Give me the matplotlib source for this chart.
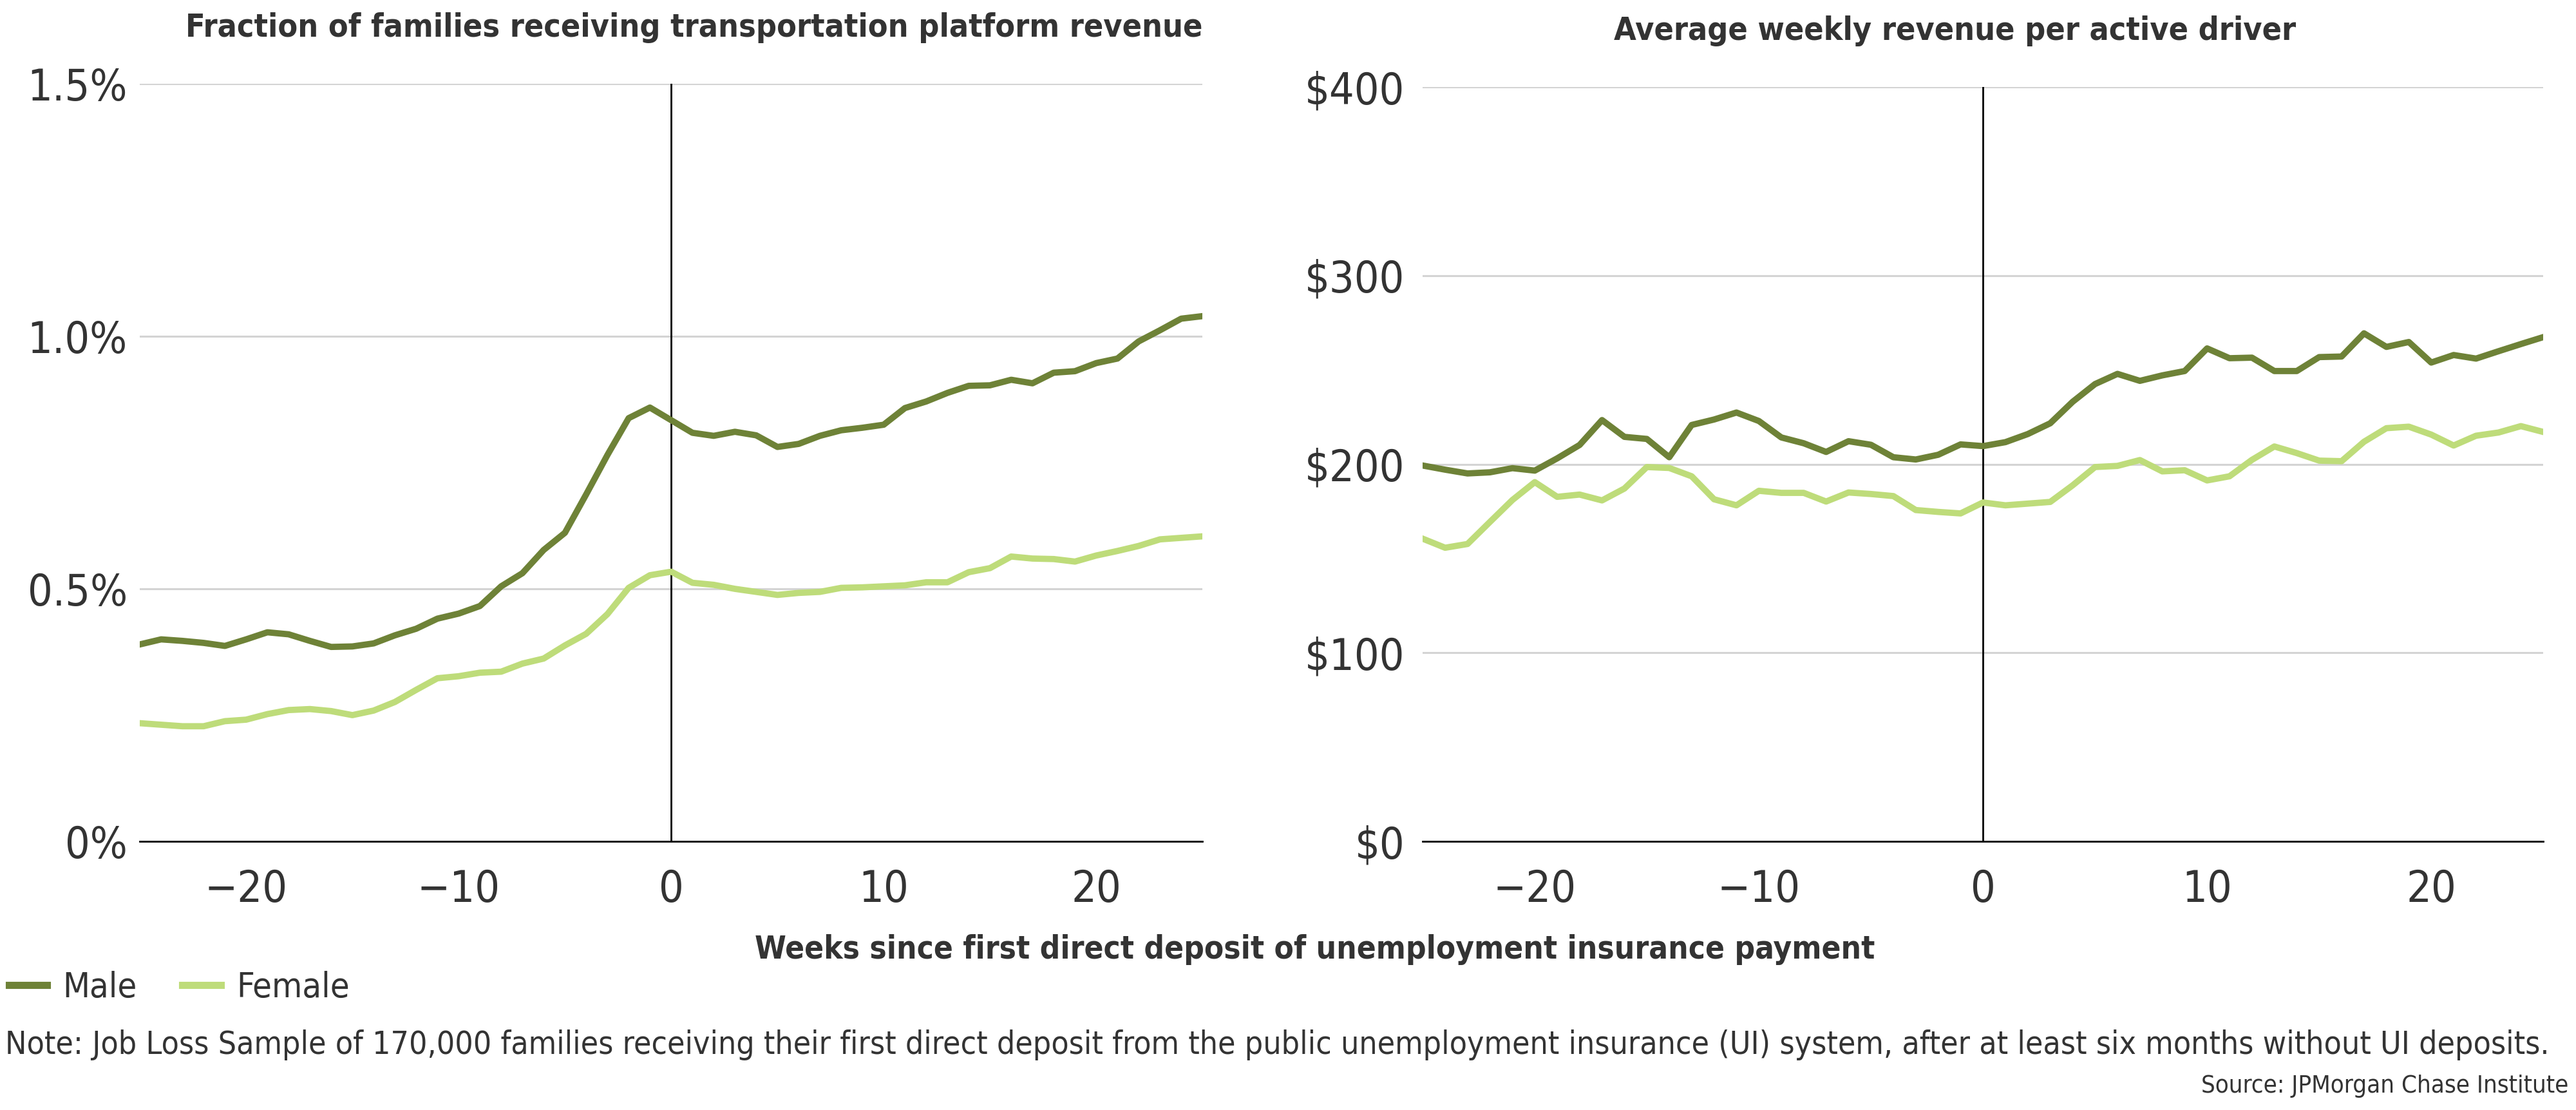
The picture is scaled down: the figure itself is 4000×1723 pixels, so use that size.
import numpy as np
import matplotlib
matplotlib.use("Agg")
import matplotlib.pyplot as plt
from matplotlib.lines import Line2D
from matplotlib.ticker import FuncFormatter

plt.rcParams['font.family'] = ['DejaVu Sans']
plt.rcParams['font.stretch'] = 'condensed'

# weeks since first UI deposit
weeks = np.arange(-25, 26)

# fraction of families receiving transportation platform revenue (%)
frac_male = [0.390, 0.400, 0.397, 0.393, 0.387, 0.400, 0.414, 0.410, 0.397, 0.385,
             0.386, 0.392, 0.408, 0.421, 0.441, 0.451, 0.466, 0.505, 0.531, 0.577,
             0.611, 0.687, 0.765, 0.838, 0.859, 0.834, 0.809, 0.803, 0.811, 0.804,
             0.781, 0.787, 0.803, 0.814, 0.819, 0.825, 0.858, 0.871, 0.888, 0.902,
             0.903, 0.914, 0.907, 0.928, 0.931, 0.947, 0.956, 0.990, 1.012, 1.035,
             1.040]
frac_female = [0.234, 0.231, 0.228, 0.228, 0.238, 0.241, 0.252, 0.260, 0.262, 0.258,
               0.250, 0.259, 0.276, 0.300, 0.323, 0.327, 0.334, 0.336, 0.352, 0.362,
               0.388, 0.411, 0.450, 0.502, 0.527, 0.534, 0.512, 0.508, 0.500, 0.494,
               0.488, 0.492, 0.494, 0.502, 0.503, 0.505, 0.507, 0.513, 0.513, 0.533,
               0.541, 0.564, 0.560, 0.559, 0.554, 0.566, 0.575, 0.585, 0.598, 0.601,
               0.604]

# average weekly revenue per active driver ($)
rev_male = [199.3, 197.1, 195.1, 195.7, 197.9, 196.6, 203.1, 210.2, 223.4, 214.5,
            213.4, 203.7, 220.8, 223.7, 227.4, 222.9, 214.2, 211.1, 206.5, 212.2,
            210.3, 203.7, 202.5, 205.0, 210.5, 209.6, 211.7, 216.0, 221.7, 233.1,
            242.5, 247.9, 244.2, 247.1, 249.4, 261.4, 256.2, 256.5, 249.4, 249.4,
            256.8, 257.1, 269.4, 262.2, 264.8, 253.9, 257.9, 256.0, 259.9, 263.7,
            267.4]
rev_female = [160.5, 155.7, 157.7, 169.4, 181.0, 190.5, 182.7, 183.9, 180.8, 187.1,
              198.5, 198.0, 193.6, 181.4, 178.2, 185.9, 184.8, 184.8, 180.2, 185.0,
              184.2, 183.1, 175.7, 174.7, 173.9, 179.7, 178.2, 179.1, 180.0, 188.8,
              198.5, 199.1, 202.2, 196.2, 196.8, 191.4, 193.6, 202.3, 209.4, 205.9,
              201.9, 201.6, 211.9, 219.1, 219.9, 215.7, 209.9, 215.1, 216.8, 220.2,
              217.1]

male_color = "#6E8237"
female_color = "#BEDC7A"
text_color = "#333333"
grid_color = "#D4D4D4"

fig = plt.figure(figsize=(40, 17.23), dpi=100)
ax_l = fig.add_axes([0.0543, 0.2420, 0.4125, 0.6825])
ax_r = fig.add_axes([0.5523, 0.2420, 0.4350, 0.6796])


def style(ax, yticks, fmt, pad):
    ax.set_xlim(-25, 25)
    ax.set_ylim(yticks[0], yticks[-1])
    ax.set_yticks(yticks)
    ax.set_xticks([-20, -10, 0, 10, 20])
    ax.yaxis.set_major_formatter(FuncFormatter(fmt))
    ax.xaxis.set_major_formatter(FuncFormatter(lambda v, p: f"{v:.0f}".replace("-", "\u2212")))
    for s in ["top", "right", "left"]:
        ax.spines[s].set_visible(False)
    ax.spines["bottom"].set_color("black")
    ax.spines["bottom"].set_linewidth(2)
    ax.spines["bottom"].set_zorder(4)
    ax.grid(axis="y", color=grid_color, linewidth=2.2)
    ax.set_axisbelow(True)
    ax.tick_params(length=0, labelsize=49, labelcolor=text_color)
    ax.tick_params(axis="x", pad=30)
    ax.tick_params(axis="y", pad=pad)
    ax.axvline(0, color="black", linewidth=2, zorder=1)


style(ax_l, [0, 0.5, 1.0, 1.5], lambda v, p: "0%" if v == 0 else f"{v:.1f}%", 14)
style(ax_r, [0, 100, 200, 300, 400], lambda v, p: f"${v:.0f}", 20)

ax_l.plot(weeks, frac_male, color=male_color, linewidth=7, zorder=3)
ax_l.plot(weeks, frac_female, color=female_color, linewidth=7, zorder=3)
ax_r.plot(weeks, rev_male, color=male_color, linewidth=7, zorder=3)
ax_r.plot(weeks, rev_female, color=female_color, linewidth=7, zorder=3)

fig.text(0.2695, 0.975, "Fraction of families receiving transportation platform revenue",
         ha="center", va="center", fontsize=36, fontweight="bold", color=text_color)
fig.text(0.759, 0.972, "Average weekly revenue per active driver",
         ha="center", va="center", fontsize=36, fontweight="bold", color=text_color)
fig.text(0.5105, 1 - 1474 / 1723, "Weeks since first direct deposit of unemployment insurance payment",
         ha="center", va="center", fontsize=35.5, fontweight="bold", color=text_color)

handles = [Line2D([], [], color=male_color, linewidth=8),
           Line2D([], [], color=female_color, linewidth=8)]
fig.legend(handles, ["Male", "Female"], loc="center left", bbox_to_anchor=(-0.002, 1 - 1533 / 1723),
           ncol=2, frameon=False, fontsize=39, handlelength=1.1, handletextpad=0.45,
           columnspacing=1.3, labelcolor=text_color, borderaxespad=0)

fig.text(0.002, 1 - 1622 / 1723,
         "Note: Job Loss Sample of 170,000 families receiving their first direct deposit from the public "
         "unemployment insurance (UI) system, after at least six months without UI deposits.",
         ha="left", va="center", fontsize=35.8, color=text_color)
fig.text(0.997, 1 - 1686 / 1723, "Source: JPMorgan Chase Institute",
         ha="right", va="center", fontsize=27.5, color=text_color)

fig.savefig("out.png", dpi=100, facecolor="white")
